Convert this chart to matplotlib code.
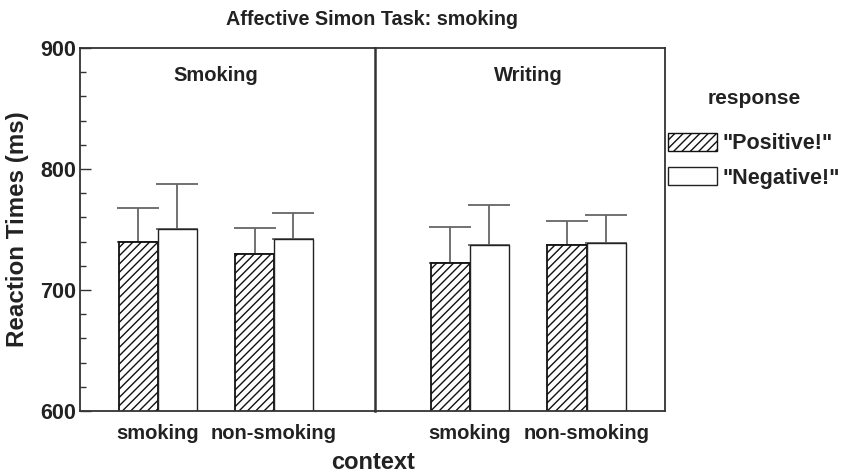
import numpy as np
import matplotlib
matplotlib.use("Agg")
import matplotlib.pyplot as plt
from matplotlib.patches import Patch
from matplotlib.ticker import MultipleLocator

# Mean reaction times (ms) and upper error bars, per panel and context
panels = ["Smoking", "Writing"]
contexts = ["smoking", "non-smoking"]
positive_rt = {"Smoking": [740, 730], "Writing": [722, 737]}
negative_rt = {"Smoking": [750, 742], "Writing": [737, 739]}
positive_err = {"Smoking": [28, 21], "Writing": [30, 20]}
negative_err = {"Smoking": [38, 22], "Writing": [33, 23]}
responses = ['"Positive!"', '"Negative!"']

plt.rcParams["font.family"] = ["Liberation Sans", "DejaVu Sans"]
plt.rcParams["font.weight"] = "bold"
plt.rcParams["hatch.linewidth"] = 1.0
plt.rcParams["hatch.color"] = "#222222"

fig = plt.figure(figsize=(8.41, 4.75), dpi=100)
gs = fig.add_gridspec(1, 2, width_ratios=[295, 290], wspace=0,
                      left=0.0951, right=0.7907, top=0.899, bottom=0.1347)
axes = [fig.add_subplot(gs[0, 0]), fig.add_subplot(gs[0, 1])]

xlims = [(-0.668, 1.868), (-0.81, 1.67)]
width = 0.335
x = np.arange(len(contexts))
spine_col = "#333333"
err_col = "#666666"
text_col = "#222222"

for ax, panel, lim in zip(axes, panels, xlims):
    ax.bar(x - width / 2, positive_rt[panel], width,
           facecolor="white", edgecolor="#111111", hatch="////", linewidth=1.3, zorder=2)
    ax.bar(x + width / 2, negative_rt[panel], width,
           facecolor="white", edgecolor="#222222", linewidth=1.0, zorder=2)
    ax.errorbar(x - width / 2, positive_rt[panel],
                yerr=[np.zeros(2), positive_err[panel]], fmt="none",
                ecolor=err_col, elinewidth=1.3, capsize=15, capthick=1.3, zorder=1)
    ax.errorbar(x + width / 2, negative_rt[panel],
                yerr=[np.zeros(2), negative_err[panel]], fmt="none",
                ecolor=err_col, elinewidth=1.3, capsize=15, capthick=1.3, zorder=1)
    ax.set_xlim(*lim)
    ax.set_ylim(600, 900)
    ax.set_xticks(x)
    ax.set_xticklabels(contexts, fontsize=14.5, fontweight="bold", color=text_col)
    ax.tick_params(axis="x", length=0, pad=9)
    ax.text(0.5, 877, panel, ha="center", va="center", fontsize=14.5,
            fontweight="bold", color=text_col)
    for s in ax.spines.values():
        s.set_color(spine_col)
        s.set_linewidth(1.3)

axes[0].yaxis.set_major_locator(MultipleLocator(100))
axes[0].yaxis.set_minor_locator(MultipleLocator(20))
axes[0].tick_params(axis="y", which="major", direction="in", length=8,
                    width=1.0, color=spine_col, labelsize=15.5, pad=3,
                    labelcolor=text_col)
axes[0].tick_params(axis="y", which="minor", direction="in", length=4,
                    width=1.0, color=spine_col)
axes[0].set_ylabel("Reaction Times (ms)", fontsize=17.4, fontweight="bold",
                   labelpad=8, color=text_col)
axes[1].tick_params(axis="y", which="both", left=False, labelleft=False)
axes[1].spines["left"].set_linewidth(1.8)
axes[0].spines["right"].set_visible(False)

fig.text(0.4429, 0.9589, "Affective Simon Task: smoking", ha="center", va="center",
         fontsize=14.2, fontweight="bold", color=text_col)
fig.text(0.4435, 0.026, "context", ha="center", va="center",
         fontsize=17, fontweight="bold", color=text_col)

handles = [Patch(facecolor="white", edgecolor="#111111", hatch="////", linewidth=1.0),
           Patch(facecolor="white", edgecolor="#222222", linewidth=1.0)]
leg = fig.legend(handles, responses, loc="upper left", bbox_to_anchor=(0.794, 0.8134),
                 frameon=False, title="response", handlelength=2.28, handleheight=0.93,
                 handletextpad=0.28, labelspacing=0.6, borderpad=0.0,
                 borderaxespad=0.0, prop={"size": 15.5, "weight": "bold"})
leg.get_title().set_fontsize(15)
leg.get_title().set_fontweight("bold")
leg.get_title().set_color(text_col)
for t in leg.get_texts():
    t.set_color(text_col)
leg._legend_box.sep = 18

fig.savefig("out.png", dpi=100)
